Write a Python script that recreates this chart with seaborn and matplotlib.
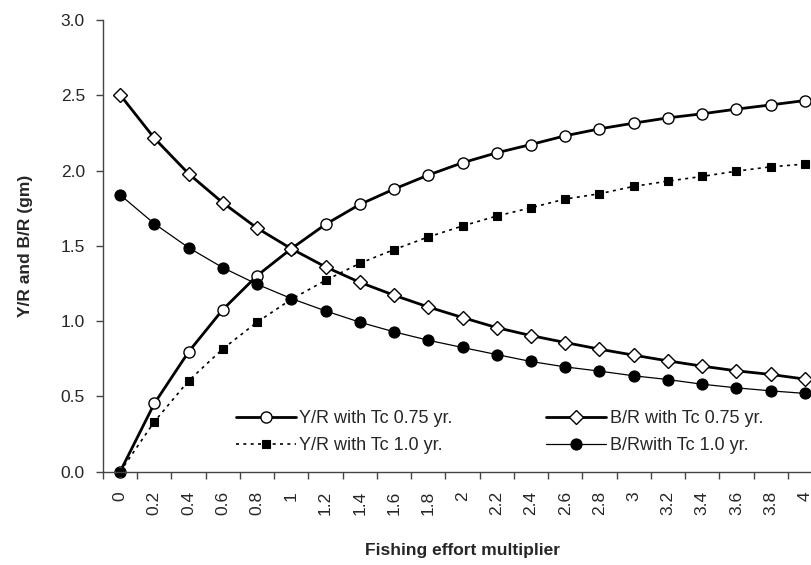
import numpy as np
import pandas as pd
import matplotlib
matplotlib.use("Agg")
import matplotlib.pyplot as plt
import seaborn as sns

effort_labels = ["0", "0.2", "0.4", "0.6", "0.8", "1", "1.2", "1.4", "1.6", "1.8", "2",
                 "2.2", "2.4", "2.6", "2.8", "3", "3.2", "3.4", "3.6", "3.8", "4"]
yr_075 = [0.0, 0.453, 0.796, 1.077, 1.302, 1.481, 1.643, 1.775, 1.877, 1.970, 2.052,
          2.118, 2.173, 2.231, 2.277, 2.315, 2.350, 2.377, 2.408, 2.436, 2.465]
yr_10 = [0.0, 0.332, 0.604, 0.816, 0.993, 1.145, 1.271, 1.384, 1.475, 1.559, 1.632,
         1.698, 1.753, 1.811, 1.846, 1.895, 1.930, 1.961, 1.996, 2.025, 2.043]
br_075 = [2.503, 2.215, 1.979, 1.786, 1.618, 1.481, 1.360, 1.258, 1.172, 1.094, 1.024,
          0.957, 0.904, 0.858, 0.814, 0.774, 0.736, 0.701, 0.670, 0.646, 0.615]
br_10 = [1.839, 1.647, 1.488, 1.355, 1.245, 1.150, 1.068, 0.993, 0.929, 0.873, 0.825,
         0.778, 0.732, 0.696, 0.668, 0.637, 0.612, 0.581, 0.557, 0.537, 0.520]
series_names = ["Y/R with Tc 0.75 yr.", "Y/R with Tc 1.0 yr.",
                "B/R with Tc 0.75 yr.", "B/Rwith Tc 1.0 yr."]
y_ticks = [0.0, 0.5, 1.0, 1.5, 2.0, 2.5, 3.0]

sns.set_theme(style="white")
plt.rcParams["font.family"] = ["Liberation Sans", "DejaVu Sans"]

W, H = 812, 565
fig = plt.figure(figsize=(W / 100, H / 100), dpi=100)
ax = fig.add_axes([103 / W, 93.3 / H, 719 / W, 451.7 / H])

pos = np.arange(len(effort_labels))
df = pd.DataFrame({"pos": pos, "yr075": yr_075, "yr10": yr_10,
                   "br075": br_075, "br10": br_10})

styles = [
    ("yr075", dict(linestyle="-", linewidth=2.0, marker="o", markersize=8,
                   markerfacecolor="white", markeredgecolor="black", markeredgewidth=1.0)),
    ("yr10", dict(linestyle=(0, (1.8, 2.6)), linewidth=1.2, marker="s", markersize=5.4,
                  markerfacecolor="black", markeredgecolor="black", markeredgewidth=0.8)),
    ("br075", dict(linestyle="-", linewidth=2.0, marker="D", markersize=7.0,
                   markerfacecolor="white", markeredgecolor="black", markeredgewidth=1.0)),
    ("br10", dict(linestyle="-", linewidth=0.9, marker="o", markersize=8,
                  markerfacecolor="black", markeredgecolor="black", markeredgewidth=0.8)),
]
for (col, kw), name in zip(styles, series_names):
    sns.lineplot(data=df, x="pos", y=col, ax=ax, color="black", label=name,
                 clip_on=False, **kw)

ax.set_xlim(-0.5, len(effort_labels) - 0.5)
ax.set_ylim(0, 3.0)
ax.set_xticks(pos)
ax.set_xticklabels(effort_labels, rotation=90, fontsize=12.5)
ax.set_xticks(np.arange(-0.5, len(effort_labels), 1.0), minor=True)
ax.tick_params(axis="x", which="major", length=0, pad=14)
ax.tick_params(axis="x", which="minor", length=5, width=1, color="#444444",
               direction="out", bottom=True)
ax.set_yticks(y_ticks)
ax.set_yticklabels([f"{v:.1f}" for v in y_ticks], fontsize=12.5)
ax.tick_params(axis="y", length=5, width=1, color="#444444", direction="out",
               left=True, pad=8)

for s in ["top", "right"]:
    ax.spines[s].set_visible(False)
for s in ["left", "bottom"]:
    ax.spines[s].set_color("#444444")
    ax.spines[s].set_linewidth(1.0)

ax.set_xlabel("Fishing effort multiplier", fontsize=12.5, fontweight="bold", labelpad=20)
ax.set_ylabel("Y/R and B/R (gm)", fontsize=12.5, fontweight="bold", labelpad=20)

ax.legend(loc="center left", bbox_to_anchor=(227 / W, 1 - 432 / H),
          bbox_transform=fig.transFigure, ncol=2, frameon=False,
          fontsize=13, handlelength=3.3, handletextpad=0.2,
          columnspacing=5.2, labelspacing=0.55, borderpad=0)

fig.savefig("out.png", dpi=100)
